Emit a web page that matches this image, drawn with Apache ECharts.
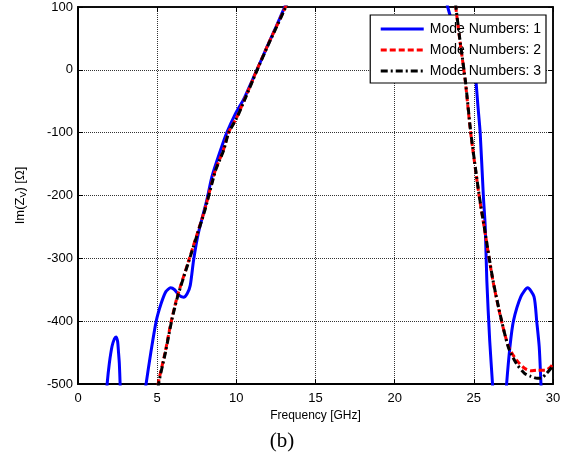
<!DOCTYPE html>
<html>
<head>
<meta charset="utf-8">
<script src="https://cdn.jsdelivr.net/npm/echarts@6/dist/echarts.min.js"></script>
<style>
  html, body { margin: 0; padding: 0; background: #fff; }
  #chart { width: 564px; height: 463px; }
</style>
</head>
<body>
<div id="chart"></div>
<script>
// Im(Z_V) versus frequency for 1, 2 and 3 mode numbers

const xTicks = [0, 5, 10, 15, 20, 25, 30];
const yTicks = [-500, -400, -300, -200, -100, 0, 100];

// Mode 1: separate branches (GHz, Ohm)
const mode1Low = [
  [1.76, -530], [1.84, -500], [1.98, -467], [2.15, -440], [2.3, -428], [2.4, -425],
  [2.5, -432], [2.56, -450], [2.61, -467], [2.66, -500], [2.7, -530]
];
const mode1Mid = [
  [4.15, -530], [4.3, -500], [4.6, -450], [4.94, -400], [5.25, -372], [5.55, -353],
  [5.85, -347], [6.1, -350], [6.35, -358], [6.67, -362], [6.9, -356], [7.09, -343],
  [7.3, -303], [7.6, -260], [8.14, -207], [8.46, -170], [9.0, -128], [9.4, -100],
  [9.9, -72], [10.5, -45], [11.0, -17], [11.3, 0], [12.0, 40], [12.5, 68],
  [13.05, 100], [13.15, 106]
];
const mode1High = [
  [23.2, 115], [23.35, 100], [23.5, 87], [24.0, 55], [24.5, 28], [24.85, 9],
  [25.06, 0], [25.13, -16], [25.25, -55], [25.4, -100], [25.6, -200], [25.72, -250],
  [25.82, -335], [26.0, -430], [26.18, -500], [26.25, -530]
];
const mode1Tail = [
  [27.0, -530], [27.07, -500], [27.28, -441], [27.5, -400], [27.97, -361], [28.4, -347],
  [28.8, -361], [28.97, -400], [29.13, -441], [29.24, -500], [29.3, -530]
];

// Mode 2
const mode2Low = [
  [4.95, -530], [5.06, -500], [5.5, -450], [5.89, -400], [6.27, -361], [7.0, -303],
  [7.5, -263], [8.0, -223], [8.67, -160], [9.18, -128], [9.5, -100], [10.0, -77],
  [10.5, -48], [11.0, -18], [11.3, 0], [12.0, 40], [12.5, 67], [13.1, 100], [13.2, 106]
];
const mode2High = [
  [23.75, 130], [23.86, 100], [24.1, 50], [24.45, -16], [24.8, -100], [25.33, -200],
  [25.65, -250], [26.2, -335], [26.75, -400], [27.2, -441], [27.7, -462], [28.2, -475],
  [28.6, -479], [29.0, -478], [29.5, -478], [29.8, -474], [30.0, -468]
];

// Mode 3
const mode3Low = [
  [4.98, -530], [5.09, -500], [5.52, -450], [5.91, -400], [6.29, -361], [7.02, -303],
  [7.52, -263], [8.02, -223], [8.69, -160], [9.2, -128], [9.52, -100], [10.02, -77],
  [10.52, -48], [11.02, -18], [11.32, 0], [12.02, 40], [12.52, 67], [13.12, 100], [13.22, 106]
];
const mode3High = [
  [23.76, 130], [23.87, 100], [24.11, 50], [24.46, -16], [24.81, -100], [25.34, -200],
  [25.66, -250], [26.21, -335], [26.76, -400], [27.2, -443], [27.7, -468], [28.2, -483],
  [28.6, -488], [29.0, -491], [29.3, -490], [29.6, -483], [30.0, -471]
];

const names = ['Mode Numbers: 1', 'Mode Numbers: 2', 'Mode Numbers: 3'];

// join branches with a gap marker so the line breaks between them
function joinBranches(...parts) {
  const out = [];
  parts.forEach((p, i) => {
    if (i > 0) out.push([p[0][0], '-']);
    p.forEach(d => out.push(d));
  });
  return out;
}

const chart = echarts.init(document.getElementById('chart'), null, { renderer: 'canvas' });

const font = 'Liberation Sans, Arial, sans-serif';
const gridLine = { show: true, lineStyle: { color: '#333', type: [1, 1], width: 1 } };

chart.setOption({
  animation: false,
  backgroundColor: '#fff',
  grid: {
    left: 78, right: 11, top: 7, bottom: 79,
    show: true, borderColor: '#000', borderWidth: 1.5, backgroundColor: 'transparent'
  },
  legend: {
    data: names,
    orient: 'vertical',
    right: 18, top: 15,
    padding: [7, 5, 5, 9],
    itemGap: 7,
    itemWidth: 43, itemHeight: 14,
    backgroundColor: '#fff',
    borderColor: '#000', borderWidth: 1.2, borderRadius: 0,
    itemStyle: { opacity: 0 },
    lineStyle: { width: 3 },
    textStyle: { fontFamily: font, fontSize: 14, color: '#000', padding: [0, 0, 0, 1] }
  },
  xAxis: [{
    type: 'value', min: 0, max: 30, interval: 5,
    name: 'Frequency [GHz]', nameLocation: 'middle', nameGap: 22,
    nameTextStyle: { fontFamily: font, fontSize: 12, color: '#000' },
    axisLine: { show: true, onZero: false, lineStyle: { color: '#000', width: 2 } },
    axisTick: { show: true, inside: true, length: 5, lineStyle: { color: '#000' } },
    axisLabel: { fontFamily: font, fontSize: 13, color: '#000', margin: 8,
      formatter: v => xTicks.includes(v) ? String(v) : '' },
    splitLine: gridLine
  }, {
    type: 'value', min: 0, max: 30, interval: 5, position: 'top',
    axisLine: { show: true, onZero: false, lineStyle: { color: '#000', width: 1.5 } },
    axisTick: { show: true, inside: true, length: 5, lineStyle: { color: '#000' } },
    axisLabel: { show: false }, splitLine: { show: false }
  }],
  yAxis: [{
    type: 'value', min: -500, max: 100, interval: 100,
    name: '{a|Im(Z}{s|V}{a|) [Ω]}', nameLocation: 'middle', nameGap: 50,
    nameTextStyle: {
      rich: {
        a: { fontFamily: font, fontSize: 13, color: '#000' },
        s: { fontFamily: font, fontSize: 9, color: '#000', verticalAlign: 'bottom', padding: [6, 0, 0, 0] }
      }
    },
    axisLine: { show: true, onZero: false, lineStyle: { color: '#000', width: 2 } },
    axisTick: { show: true, inside: true, length: 5, lineStyle: { color: '#000' } },
    axisLabel: { fontFamily: font, fontSize: 13, color: '#000', margin: 5,
      formatter: v => yTicks.includes(v) ? String(v) : '' },
    splitLine: gridLine
  }, {
    type: 'value', min: -500, max: 100, interval: 100, position: 'right',
    axisLine: { show: true, onZero: false, lineStyle: { color: '#000', width: 1.5 } },
    axisTick: { show: true, inside: true, length: 5, lineStyle: { color: '#000' } },
    axisLabel: { show: false }, splitLine: { show: false }
  }],
  series: [
    {
      name: names[0], type: 'line', symbol: 'none', smooth: 0.25, connectNulls: false,
      z: 3,
      lineStyle: { color: '#0000ff', width: 3 },
      itemStyle: { color: '#0000ff' },
      data: joinBranches(mode1Low, mode1Mid, mode1High, mode1Tail)
    },
    {
      name: names[1], type: 'line', symbol: 'none', smooth: 0.25, connectNulls: false,
      z: 4,
      lineStyle: { color: '#ff0000', width: 3, type: [6, 3] },
      itemStyle: { color: '#ff0000' },
      data: joinBranches(mode2Low, mode2High)
    },
    {
      name: names[2], type: 'line', symbol: 'none', smooth: 0.25, connectNulls: false,
      z: 5,
      lineStyle: { color: '#000000', width: 3, type: [7, 3, 2, 3] },
      itemStyle: { color: '#000000' },
      data: joinBranches(mode3Low, mode3High)
    }
  ],
  graphic: [{
    type: 'text', left: 'center', top: 431,
    style: { text: '(b)', font: '21px "Liberation Serif", "Times New Roman", serif', fill: '#000' }
  }]
});
</script>
</body>
</html>
